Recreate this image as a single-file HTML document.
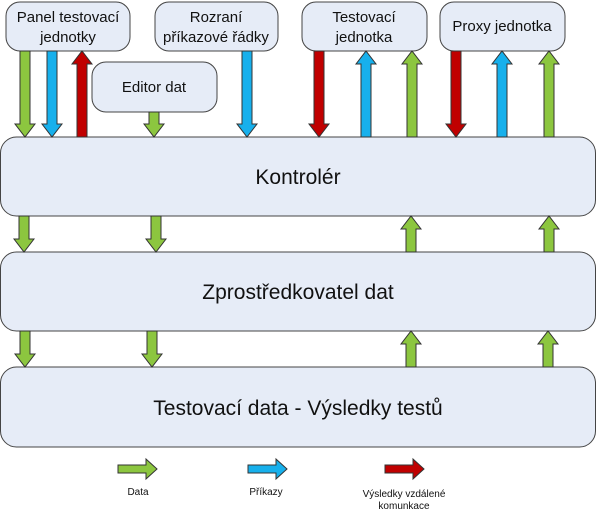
<!DOCTYPE html>
<html><head><meta charset="utf-8"><style>
body{margin:0;background:#fff}
svg{display:block}
text{font-family:"Liberation Sans",Arial,sans-serif;fill:#111}
</style></head><body>
<svg width="597" height="517" viewBox="0 0 597 517">
<g fill="#e6ecf7" stroke="#444" stroke-width="1">
<rect x="6" y="2" width="124" height="49" rx="14"/>
<rect x="155" y="2" width="123" height="49" rx="14"/>
<rect x="302" y="2" width="125" height="49" rx="14"/>
<rect x="440" y="2" width="125" height="49" rx="14"/>
<rect x="92" y="62" width="125" height="50" rx="14"/>
<rect x="0.5" y="137" width="595" height="79" rx="16"/>
<rect x="0.5" y="252" width="595" height="79" rx="16"/>
<rect x="0.5" y="367" width="595" height="80" rx="16"/>
</g>
<g stroke="#333" stroke-width="1" stroke-linejoin="miter">
<path fill="#8cc63f" d="M20,51 H30 V124 H35 L25,137 15,124 H20 Z"/>
<path fill="#17b0ec" d="M47,51 H57 V124 H62 L52,137 42,124 H47 Z"/>
<path fill="#c00000" d="M77,137 H87 V64 H92 L82,51 72,64 H77 Z"/>
<path fill="#8cc63f" d="M149,112 H159 V124 H164 L154,137 144,124 H149 Z"/>
<path fill="#17b0ec" d="M242,51 H252 V124 H257 L247,137 237,124 H242 Z"/>
<path fill="#c00000" d="M314,51 H324 V124 H329 L319,137 309,124 H314 Z"/>
<path fill="#17b0ec" d="M361,137 H371 V64 H376 L366,51 356,64 H361 Z"/>
<path fill="#8cc63f" d="M407,137 H417 V64 H422 L412,51 402,64 H407 Z"/>
<path fill="#c00000" d="M451,51 H461 V124 H466 L456,137 446,124 H451 Z"/>
<path fill="#17b0ec" d="M497,137 H507 V64 H512 L502,51 492,64 H497 Z"/>
<path fill="#8cc63f" d="M544,137 H554 V64 H559 L549,51 539,64 H544 Z"/>
<path fill="#8cc63f" d="M19,216 H29 V239 H34 L24,252 14,239 H19 Z"/>
<path fill="#8cc63f" d="M151,216 H161 V239 H166 L156,252 146,239 H151 Z"/>
<path fill="#8cc63f" d="M406,252 H416 V229 H421 L411,216 401,229 H406 Z"/>
<path fill="#8cc63f" d="M544,252 H554 V229 H559 L549,216 539,229 H544 Z"/>
<path fill="#8cc63f" d="M20,331 H30 V354 H35 L25,367 15,354 H20 Z"/>
<path fill="#8cc63f" d="M147,331 H157 V354 H162 L152,367 142,354 H147 Z"/>
<path fill="#8cc63f" d="M406,367 H416 V344 H421 L411,331 401,344 H406 Z"/>
<path fill="#8cc63f" d="M543,367 H553 V344 H558 L548,331 538,344 H543 Z"/>
<path fill="#8cc63f" d="M118,473 H146 V479 L157,469 146,459 V465 H118 Z"/>
<path fill="#17b0ec" d="M248,473 H276 V479 L287,469 276,459 V465 H248 Z"/>
<path fill="#c00000" d="M385,473 H413 V479 L424,469 413,459 V465 H385 Z"/>
</g>
<g font-size="15" text-anchor="middle">
<text x="68" y="22">Panel testovací</text>
<text x="68" y="42">jednotky</text>
<text x="216" y="22">Rozraní</text>
<text x="216" y="42">příkazové řádky</text>
<text x="364" y="22">Testovací</text>
<text x="364" y="42">jednotka</text>
<text x="502" y="31">Proxy jednotka</text>
<text x="154" y="92">Editor dat</text>
</g>
<g font-size="21" text-anchor="middle">
<text x="298" y="184">Kontrolér</text>
<text x="298" y="299">Zprostředkovatel dat</text>
<text x="298" y="415">Testovací data - Výsledky testů</text>
</g>
<g font-size="10" text-anchor="middle">
<text x="138" y="495">Data</text>
<text x="266" y="495">Příkazy</text>
<text x="404" y="497">Výsledky vzdálené</text>
<text x="404" y="509">komunkace</text>
</g>
</svg>
</body></html>
